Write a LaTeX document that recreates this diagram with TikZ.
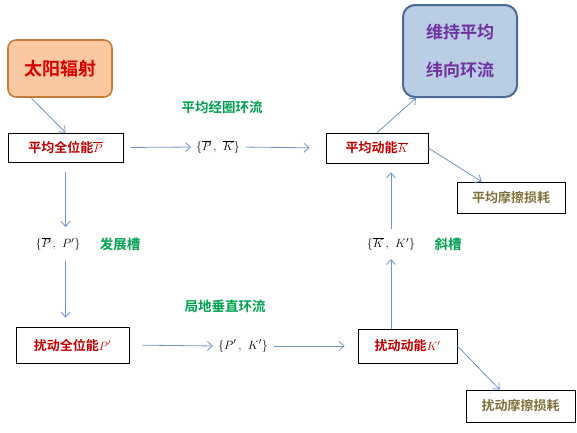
\documentclass[tikz,border=0pt]{standalone}
\usepackage{amsmath}
\usepackage{fontspec}
\usepackage{xcolor}
\usetikzlibrary{arrows.meta, positioning, calc}
\newfontfamily\cjk{Noto Sans CJK SC Bold}
\definecolor{sunfill}{HTML}{FAC8A0}
\definecolor{sunline}{HTML}{C77B3B}
\definecolor{keepfill}{HTML}{B9CDE5}
\definecolor{keepline}{HTML}{4A6A98}
\definecolor{keeptext}{HTML}{7030A0}
\definecolor{flowgreen}{HTML}{00A050}
\definecolor{energyred}{HTML}{C00000}
\definecolor{lossbrown}{HTML}{7F6F3A}
\definecolor{arrowblue}{HTML}{6F93C6}
\tikzstyle{energy} = [draw=black, thick, fill=white, font=\cjk\fontsize{13}{15}\selectfont, text=energyred, inner sep=0pt]
\tikzstyle{loss} = [draw=black, thick, fill=white, font=\cjk\fontsize{13}{15}\selectfont, text=lossbrown, inner sep=0pt]
\tikzstyle{pair} = [font=\fontsize{13}{15}\selectfont, inner sep=2pt]
\tikzstyle{flow} = [font=\cjk\fontsize{13.5}{15}\selectfont, text=flowgreen]
\tikzstyle{arrow} = [draw=arrowblue, line width=0.8pt, -{Straight Barb[length=5pt, width=9pt]}]

\begin{document}
\begin{tikzpicture}[x=1pt, y=-1pt]
    \useasboundingbox (0,0) rectangle (577,432);
    % Source and target boxes
    \node[draw=sunline, line width=1.6pt, fill=sunfill, rounded corners=8pt, minimum width=104pt, minimum height=57pt, text=red!85!black, font=\cjk\fontsize{18}{20}\selectfont] (sun) at (60,68.5) {太阳辐射};
    \node[draw=keepline, line width=2pt, fill=keepfill, rounded corners=12pt, minimum width=114pt, minimum height=92pt, text=keeptext, font=\cjk\fontsize{17}{20}\selectfont, align=center] (keep) at (460,51) {维持平均\\[18pt]纬向环流};
    
    % Energy boxes
    \node[energy, minimum width=115pt, minimum height=29pt] (pbar) at (65.5,147.5) {平均全位能$\overline{P}$};
    \node[energy, minimum width=102pt, minimum height=30pt] (kbar) at (377,148) {平均动能$\overline{K}$};
    \node[energy, minimum width=113pt, minimum height=36pt] (pprime) at (72.5,345) {扰动全位能$P'$};
    \node[energy, minimum width=99pt, minimum height=34pt] (kprime) at (407.5,346) {扰动动能$K'$};
    
    % Friction losses
    \node[loss, minimum width=108pt, minimum height=31pt] (lossmean) at (511,197.5) {平均摩擦损耗};
    \node[loss, minimum width=109pt, minimum height=32pt] (losseddy) at (520.5,406) {扰动摩擦损耗};
    
    % Conversion terms
    \node[pair] (pk) at (218,147) {$\{\overline{P}\,,\ \overline{K}\}$};
    \node[pair] (pp) at (58,244) {$\{\overline{P}\,,\ P'\}$};
    \node[pair] (kk) at (391,244) {$\{\overline{K}\,,\ K'\}$};
    \node[pair] (pkp) at (243,346) {$\{P'\,,\ K'\}$};
    
    \node[flow] (meanmerid) at (222,107) {平均经圈环流};
    \node[flow] (develop) at (120,244) {发展槽};
    \node[flow] (tilt) at (448,244) {斜槽};
    \node[flow] (localvert) at (225,306) {局地垂直环流};
    
    % Arrows
    \draw[arrow] ([xshift=24pt]sun.south west) -- (pbar.north);
    \draw[arrow, shorten <=7pt, shorten >=3pt] (pbar.east) -- (pk.west);
    \draw[arrow, shorten <=4pt, shorten >=16pt] (pk.east) -- (kbar.west);
    \draw[arrow, shorten <=10pt, shorten >=8pt] (pbar.south) -- (pbar.south |- pp.north);
    \draw[arrow, shorten <=8pt, shorten >=9pt] (pbar.south |- pp.south) -- (pbar.south |- pprime.north);
    \draw[arrow, shorten <=13pt, shorten >=3pt] (pprime.east) -- (pkp.west);
    \draw[arrow, shorten <=4pt, shorten >=13pt] (pkp.east) -- (kprime.west);
    \draw[arrow, shorten >=6pt] (kprime.north -| kk) -- (kk.south);
    \draw[arrow, shorten <=6pt, shorten >=9pt] (kk.north) -- (kk.north |- kbar.south);
    \draw[arrow] (kbar.north) -- ([xshift=14pt]keep.south west);
    \draw[arrow] (kbar.east) -- ([xshift=25pt]lossmean.north west);
    \draw[arrow] (kprime.east) -- ([xshift=34pt]losseddy.north west);
\end{tikzpicture}
\end{document}
